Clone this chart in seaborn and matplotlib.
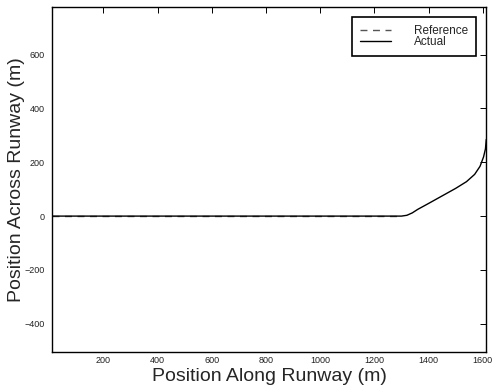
import matplotlib
matplotlib.use("Agg")
import matplotlib.pyplot as plt
import seaborn as sns
import pandas as pd

ref_x = [10, 300, 600, 900, 1200, 1300]
ref_y = [0, 0, 0, 0, 0, 0]
act_x = [10, 400, 800, 1200, 1300, 1320, 1340, 1360, 1400, 1450, 1500, 1540, 1570, 1590, 1603, 1610, 1613]
act_y = [0, 0, 0, 0, 0, 3, 12, 25, 47, 75, 103, 128, 155, 185, 220, 250, 285]

sns.set_theme(style="white")
plt.rcParams['font.family'] = ['Liberation Sans', 'DejaVu Sans']
plt.rcParams['xtick.direction'] = 'in'
plt.rcParams['ytick.direction'] = 'in'

fig = plt.figure(figsize=(4.92, 3.85), dpi=100)
ax = fig.add_axes([52/492, 1-352/385, (486-52)/492, (352-7)/385])

df_ref = pd.DataFrame({"x": ref_x, "y": ref_y})
df_act = pd.DataFrame({"x": act_x, "y": act_y})
sns.lineplot(data=df_ref, x="x", y="y", ax=ax, color="#555555", linestyle=(0, (5, 4)), lw=1.0, label="Reference", sort=False)
sns.lineplot(data=df_act, x="x", y="y", ax=ax, color="black", lw=1.0, label="Actual", sort=False)

ax.set_xlim(10, 1612)
ax.set_ylim(-505, 777)
ax.set_xticks([200, 400, 600, 800, 1000, 1200, 1400, 1600])
ax.set_yticks([-400, -200, 0, 200, 400, 600])
ax.tick_params(axis='x', pad=3)
ax.tick_params(axis='y', pad=5)
ax.tick_params(axis='both', labelsize=6.5, length=4, width=0.7, color='black',
               top=True, right=True, labelcolor='#222222')
for s in ax.spines.values():
    s.set_color('black'); s.set_linewidth(1.0)
ax.set_xlabel("Position Along Runway (m)", fontsize=14, labelpad=2)
ax.set_ylabel("Position Across Runway (m)", fontsize=14, labelpad=-0.3)

leg = ax.legend(loc='upper right', bbox_to_anchor=((476-52)/434, (352-17)/345),
                fontsize=8.5, frameon=True, fancybox=False,
                edgecolor='black', handlelength=2.6, handletextpad=1.9,
                borderaxespad=0, labelspacing=-0.12, borderpad=0.7)
leg.get_frame().set_linewidth(1.2)
leg.get_frame().set_alpha(1)
fig.savefig("out.png", dpi=100)
